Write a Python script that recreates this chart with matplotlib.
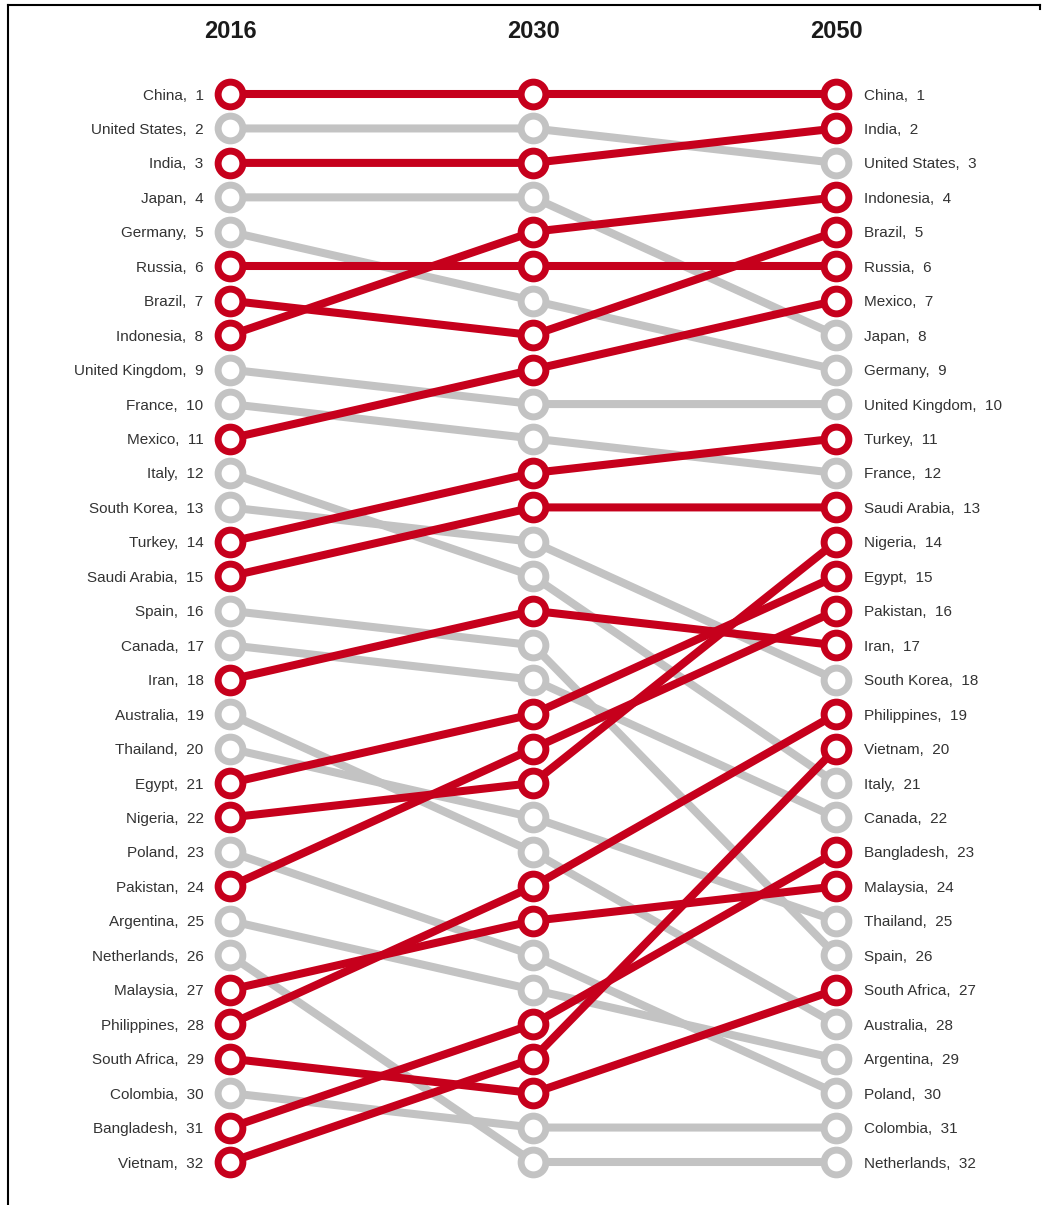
import matplotlib
matplotlib.use("Agg")
import matplotlib.pyplot as plt
from matplotlib.lines import Line2D

years = ["2016", "2030", "2050"]

countries = ["China", "United States", "India", "Japan", "Germany", "Russia", "Brazil",
             "Indonesia", "United Kingdom", "France", "Mexico", "Italy", "South Korea",
             "Turkey", "Saudi Arabia", "Spain", "Canada", "Iran", "Australia", "Thailand",
             "Egypt", "Nigeria", "Poland", "Pakistan", "Argentina", "Netherlands",
             "Malaysia", "Philippines", "South Africa", "Colombia", "Bangladesh", "Vietnam"]

rank_2016 = [1, 2, 3, 4, 5, 6, 7, 8, 9, 10, 11, 12, 13, 14, 15, 16, 17, 18, 19, 20,
             21, 22, 23, 24, 25, 26, 27, 28, 29, 30, 31, 32]
rank_2030 = [1, 2, 3, 4, 7, 6, 8, 5, 10, 11, 9, 15, 14, 12, 13, 17, 18, 16, 23, 22,
             19, 21, 26, 20, 27, 32, 25, 24, 30, 31, 28, 29]
rank_2050 = [1, 3, 2, 8, 9, 6, 5, 4, 10, 12, 7, 21, 18, 11, 13, 26, 22, 17, 28, 25,
             15, 14, 30, 16, 29, 32, 24, 19, 27, 31, 23, 20]

emerging = ["China", "India", "Russia", "Brazil", "Indonesia", "Mexico", "Turkey",
            "Saudi Arabia", "Iran", "Egypt", "Nigeria", "Pakistan", "Malaysia",
            "Philippines", "South Africa", "Bangladesh", "Vietnam"]

RED = "#c6001c"
GREY = "#c3c3c3"
TXT = "#333333"

W, H = 1046, 1205
fig = plt.figure(figsize=(W / 100, H / 100), dpi=100)
fig.patch.set_facecolor("white")

ax = fig.add_axes([230 / W, (H - 1162) / H, 606 / W, (1162 - 94) / H])
ax.set_xlim(0, 2)
ax.set_ylim(32, 1)
ax.axis("off")

fam = ["Liberation Sans", "DejaVu Sans"]
xs = [0, 1, 2]

order = [i for i, c in enumerate(countries) if c not in emerging] + \
        [i for i, c in enumerate(countries) if c in emerging]

for i in order:
    c = countries[i]
    col = RED if c in emerging else GREY
    ys = [rank_2016[i], rank_2030[i], rank_2050[i]]
    ax.plot(xs, ys, color=col, lw=5.8, solid_capstyle="butt", zorder=2, clip_on=False)

for i in order:
    c = countries[i]
    col = RED if c in emerging else GREY
    ys = [rank_2016[i], rank_2030[i], rank_2050[i]]
    ax.plot(xs, ys, linestyle="none", marker="o", markersize=17.8, markeredgewidth=5.0,
            markerfacecolor="white", markeredgecolor=col, zorder=3, clip_on=False)

for i, c in enumerate(countries):
    ax.annotate(f"{c},  {rank_2016[i]}", xy=(0, rank_2016[i]), xytext=(-19, 0),
                textcoords="offset points", ha="right", va="center_baseline",
                fontsize=11, color=TXT, family=fam)
    ax.annotate(f"{c},  {rank_2050[i]}", xy=(2, rank_2050[i]), xytext=(20, 0),
                textcoords="offset points", ha="left", va="center_baseline",
                fontsize=11, color=TXT, family=fam)

for x, yr in zip(xs, years):
    ax.annotate(yr, xy=(x, 1), xytext=(0, 45), textcoords="offset points",
                ha="center", va="center", fontsize=17, fontweight="bold",
                color="#1a1a1a", family=fam)

# frame lines of the original screenshot
fig.add_artist(Line2D([8 / W, 8 / W], [0, 1 - 5 / H], color="black", lw=1.5))
fig.add_artist(Line2D([8 / W, 1040 / W], [1 - 5 / H, 1 - 5 / H], color="black", lw=1.5))
fig.add_artist(Line2D([1040 / W, 1040 / W], [1 - 5 / H, 1 - 9 / H], color="black", lw=1.5))

fig.savefig("out.png", dpi=100, facecolor="white")
